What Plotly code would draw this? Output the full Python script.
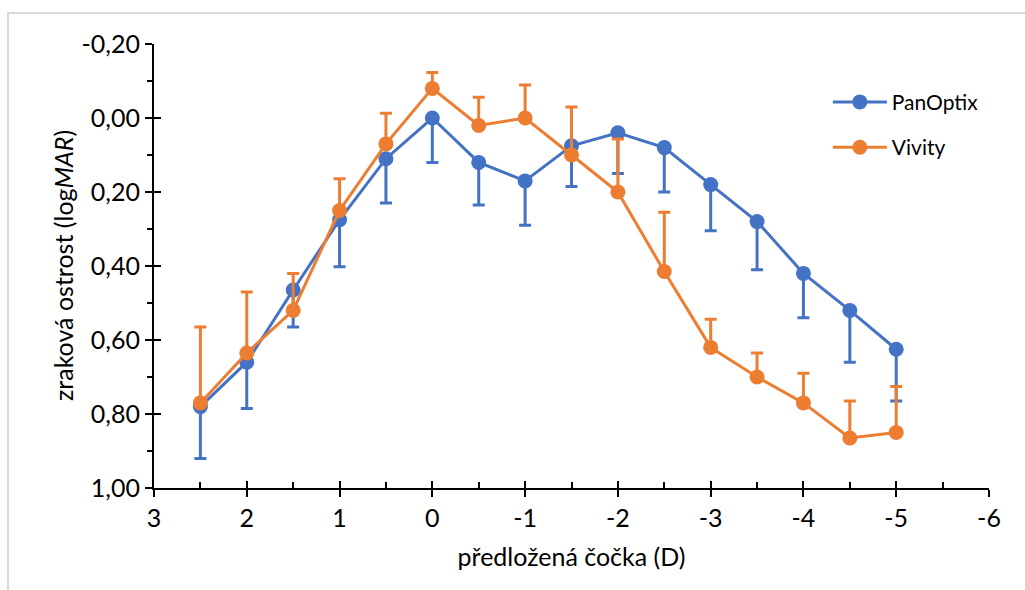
import plotly.graph_objects as go

lens_d = [2.5, 2, 1.5, 1, 0.5, 0, -0.5, -1, -1.5, -2, -2.5, -3, -3.5, -4, -4.5, -5]

panoptix = [0.78, 0.66, 0.465, 0.275, 0.11, 0.00, 0.12, 0.17, 0.075, 0.04, 0.08, 0.18, 0.28, 0.42, 0.52, 0.625]
panoptix_err = [0.14, 0.125, 0.10, 0.127, 0.12, 0.12, 0.115, 0.12, 0.11, 0.11, 0.12, 0.125, 0.13, 0.12, 0.14, 0.14]

vivity = [0.77, 0.635, 0.52, 0.25, 0.07, -0.08, 0.02, 0.00, 0.10, 0.20, 0.415, 0.62, 0.70, 0.77, 0.865, 0.85]
vivity_err = [0.205, 0.165, 0.10, 0.086, 0.083, 0.043, 0.076, 0.089, 0.13, 0.143, 0.16, 0.076, 0.065, 0.08, 0.10, 0.124]

y_ticks = [-0.2, 0.0, 0.2, 0.4, 0.6, 0.8, 1.0]
y_labels = ["-0,20", "0,00", "0,20", "0,40", "0,60", "0,80", "1,00"]
x_ticks = [3, 2, 1, 0, -1, -2, -3, -4, -5, -6]
x_labels = ["3", "2", "1", "0", "-1", "-2", "-3", "-4", "-5", "-6"]

BLUE = "#4472C4"
ORANGE = "#ED7D31"
FONT = "Lato"

fig = go.Figure()
fig.add_trace(go.Scatter(
    x=lens_d, y=panoptix, name="PanOptix", mode="lines+markers",
    line=dict(color=BLUE, width=3), marker=dict(color=BLUE, size=15),
    error_y=dict(type="data", array=panoptix_err, arrayminus=[0] * len(panoptix_err),
                 symmetric=False, color=BLUE, thickness=3, width=6),
    legendgroup="a",
))
fig.add_trace(go.Scatter(
    x=lens_d, y=vivity, name="Vivity", mode="lines+markers",
    line=dict(color=ORANGE, width=3), marker=dict(color=ORANGE, size=15),
    error_y=dict(type="data", array=[0] * len(vivity_err), arrayminus=vivity_err,
                 symmetric=False, color=ORANGE, thickness=3, width=6),
    legendgroup="b",
))

line_common = dict(showgrid=False, zeroline=False, showline=True, linecolor="black",
                   linewidth=2, tickwidth=2, tickcolor="black")

fig.update_layout(
    width=1025, height=590,
    margin=dict(l=154, r=36, t=44, b=102),
    paper_bgcolor="white", plot_bgcolor="white",
    font=dict(family=FONT, size=25, color="black"),
    xaxis=dict(range=[3, -6], tickvals=x_ticks, ticktext=x_labels,
               ticks="outside", ticklen=7,
               title=dict(text="předložená čočka (D)", font=dict(size=25), standoff=17),
               **line_common),
    xaxis2=dict(range=[3, -6], overlaying="x", side="bottom", anchor="y",
                tickvals=x_ticks, showticklabels=False, ticks="inside", ticklen=7,
                minor=dict(dtick=0.5, ticks="inside", ticklen=6, tickwidth=2, tickcolor="black"),
                **line_common),
    yaxis=dict(range=[1.0, -0.2], tickvals=y_ticks, ticktext=y_labels,
               ticks="outside", ticklen=7,
               minor=dict(dtick=0.1, ticks="outside", ticklen=5, tickwidth=2, tickcolor="black"),
               **line_common),
    yaxis2=dict(range=[1.0, -0.2], overlaying="y", side="left", anchor="x",
                tickvals=y_ticks, showticklabels=False, ticks="inside", ticklen=7,
                **line_common),
    legend=dict(x=0.807, y=0.915, xanchor="left", yanchor="top", itemwidth=54,
                font=dict(size=21), tracegroupgap=15, bgcolor="rgba(0,0,0,0)"),
    showlegend=True,
    annotations=[dict(text="zraková ostrost (log<i>MAR</i>)", textangle=-90,
                      xref="paper", yref="paper", x=(63 - 154) / 835, y=0.5,
                      xanchor="center", yanchor="middle", showarrow=False,
                      font=dict(size=25))],
    shapes=[dict(type="rect", xref="paper", yref="paper", layer="below",
                 x0=(8 - 154) / 835, x1=(1040 - 154) / 835,
                 y0=(488 - 600) / 444, y1=(488 - 13) / 444,
                 line=dict(color="#d9d9d9", width=2))],
)

# invisible helper trace to activate the overlay axes (crossing tick marks)
fig.add_trace(go.Scatter(x=[None], y=[None], xaxis="x2", yaxis="y2",
                         showlegend=False, hoverinfo="skip"))

fig.write_html("out.html")
